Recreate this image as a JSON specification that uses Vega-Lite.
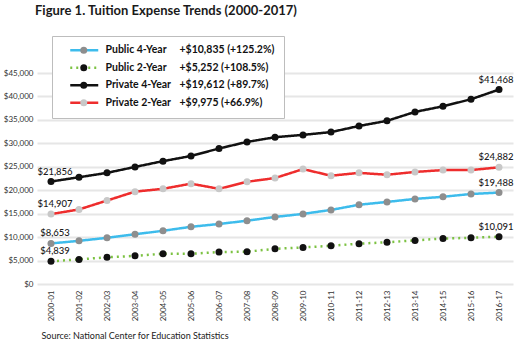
{
  "$schema": "https://vega.github.io/schema/vega-lite/v6.json",
  "width": 476,
  "height": 211,
  "autosize": {"type": "none"},
  "padding": {"left": 37, "top": 73, "right": 4, "bottom": 67},
  "background": "white",
  "config": {
    "font": "Lato",
    "view": {"stroke": null},
    "axis": {"labelColor": "#333333", "labelFont": "Lato"}
  },
  "title": {
    "text": "Figure 1. Tuition Expense Trends (2000-2017)",
    "anchor": "start",
    "frame": "group",
    "font": "Lato",
    "fontSize": 13,
    "fontWeight": "bold",
    "color": "#1a1a1a",
    "dx": -2,
    "offset": 18
  },
  "data": {
    "values": [
      {"year": "2000-01", "series": "Public 4-Year", "cost": 8653},
      {"year": "2001-02", "series": "Public 4-Year", "cost": 9200},
      {"year": "2002-03", "series": "Public 4-Year", "cost": 9850},
      {"year": "2003-04", "series": "Public 4-Year", "cost": 10600},
      {"year": "2004-05", "series": "Public 4-Year", "cost": 11350},
      {"year": "2005-06", "series": "Public 4-Year", "cost": 12200},
      {"year": "2006-07", "series": "Public 4-Year", "cost": 12800},
      {"year": "2007-08", "series": "Public 4-Year", "cost": 13500},
      {"year": "2008-09", "series": "Public 4-Year", "cost": 14300},
      {"year": "2009-10", "series": "Public 4-Year", "cost": 14950},
      {"year": "2010-11", "series": "Public 4-Year", "cost": 15800},
      {"year": "2011-12", "series": "Public 4-Year", "cost": 16900},
      {"year": "2012-13", "series": "Public 4-Year", "cost": 17500},
      {"year": "2013-14", "series": "Public 4-Year", "cost": 18150},
      {"year": "2014-15", "series": "Public 4-Year", "cost": 18600},
      {"year": "2015-16", "series": "Public 4-Year", "cost": 19200},
      {"year": "2016-17", "series": "Public 4-Year", "cost": 19488},
      {"year": "2000-01", "series": "Public 2-Year", "cost": 4839},
      {"year": "2001-02", "series": "Public 2-Year", "cost": 5250},
      {"year": "2002-03", "series": "Public 2-Year", "cost": 5700},
      {"year": "2003-04", "series": "Public 2-Year", "cost": 6000},
      {"year": "2004-05", "series": "Public 2-Year", "cost": 6450},
      {"year": "2005-06", "series": "Public 2-Year", "cost": 6450},
      {"year": "2006-07", "series": "Public 2-Year", "cost": 6800},
      {"year": "2007-08", "series": "Public 2-Year", "cost": 6900},
      {"year": "2008-09", "series": "Public 2-Year", "cost": 7500},
      {"year": "2009-10", "series": "Public 2-Year", "cost": 7800},
      {"year": "2010-11", "series": "Public 2-Year", "cost": 8150},
      {"year": "2011-12", "series": "Public 2-Year", "cost": 8600},
      {"year": "2012-13", "series": "Public 2-Year", "cost": 8900},
      {"year": "2013-14", "series": "Public 2-Year", "cost": 9300},
      {"year": "2014-15", "series": "Public 2-Year", "cost": 9700},
      {"year": "2015-16", "series": "Public 2-Year", "cost": 9850},
      {"year": "2016-17", "series": "Public 2-Year", "cost": 10091},
      {"year": "2000-01", "series": "Private 4-Year", "cost": 21856},
      {"year": "2001-02", "series": "Private 4-Year", "cost": 22770},
      {"year": "2002-03", "series": "Private 4-Year", "cost": 23700},
      {"year": "2003-04", "series": "Private 4-Year", "cost": 24970},
      {"year": "2004-05", "series": "Private 4-Year", "cost": 26200},
      {"year": "2005-06", "series": "Private 4-Year", "cost": 27300},
      {"year": "2006-07", "series": "Private 4-Year", "cost": 28900},
      {"year": "2007-08", "series": "Private 4-Year", "cost": 30300},
      {"year": "2008-09", "series": "Private 4-Year", "cost": 31300},
      {"year": "2009-10", "series": "Private 4-Year", "cost": 31800},
      {"year": "2010-11", "series": "Private 4-Year", "cost": 32400},
      {"year": "2011-12", "series": "Private 4-Year", "cost": 33700},
      {"year": "2012-13", "series": "Private 4-Year", "cost": 34800},
      {"year": "2013-14", "series": "Private 4-Year", "cost": 36700},
      {"year": "2014-15", "series": "Private 4-Year", "cost": 37900},
      {"year": "2015-16", "series": "Private 4-Year", "cost": 39400},
      {"year": "2016-17", "series": "Private 4-Year", "cost": 41468},
      {"year": "2000-01", "series": "Private 2-Year", "cost": 14907},
      {"year": "2001-02", "series": "Private 2-Year", "cost": 15900},
      {"year": "2002-03", "series": "Private 2-Year", "cost": 17800},
      {"year": "2003-04", "series": "Private 2-Year", "cost": 19700},
      {"year": "2004-05", "series": "Private 2-Year", "cost": 20300},
      {"year": "2005-06", "series": "Private 2-Year", "cost": 21400},
      {"year": "2006-07", "series": "Private 2-Year", "cost": 20300},
      {"year": "2007-08", "series": "Private 2-Year", "cost": 21800},
      {"year": "2008-09", "series": "Private 2-Year", "cost": 22600},
      {"year": "2009-10", "series": "Private 2-Year", "cost": 24500},
      {"year": "2010-11", "series": "Private 2-Year", "cost": 23100},
      {"year": "2011-12", "series": "Private 2-Year", "cost": 23700},
      {"year": "2012-13", "series": "Private 2-Year", "cost": 23300},
      {"year": "2013-14", "series": "Private 2-Year", "cost": 23900},
      {"year": "2014-15", "series": "Private 2-Year", "cost": 24300},
      {"year": "2015-16", "series": "Private 2-Year", "cost": 24300},
      {"year": "2016-17", "series": "Private 2-Year", "cost": 24882}
    ]
  },
  "encoding": {
    "x": {
      "field": "year",
      "type": "ordinal",
      "scale": {"type": "point", "padding": 0.5},
      "axis": {
        "title": "Source: National Center for Education Statistics",
        "titleFont": "Lato",
        "titleFontSize": 9,
        "titleFontWeight": "normal",
        "titleColor": "#222222",
        "titleAnchor": "start",
        "titleAlign": "left",
        "titleBaseline": "middle",
        "titleX": 4,
        "titleY": 51,
        "labelAngle": -90,
        "labelFontSize": 8,
        "labelPadding": 6,
        "labelAlign": "right",
        "labelBaseline": "middle",
        "domain": false,
        "ticks": false,
        "grid": false
      }
    },
    "y": {
      "field": "cost",
      "type": "quantitative",
      "scale": {"domain": [0, 45000], "nice": false},
      "axis": {
        "title": null,
        "values": [0, 5000, 10000, 15000, 20000, 25000, 30000, 35000, 40000, 45000],
        "format": "$,d",
        "labelFontSize": 8,
        "labelPadding": 4,
        "domain": false,
        "ticks": false,
        "grid": true,
        "gridColor": "#e6e6e6",
        "gridWidth": 2
      }
    }
  },
  "layer": [
    {
      "mark": {"type": "line", "strokeWidth": 2.5},
      "encoding": {
        "stroke": {
          "field": "series",
          "type": "nominal",
          "scale": {
            "domain": ["Public 4-Year", "Public 2-Year", "Private 4-Year", "Private 2-Year"],
            "range": ["#3dbcec", "#7cc242", "#111111", "#ee2d2d"]
          },
          "legend": {
            "title": null,
            "orient": "none",
            "legendX": 15,
            "legendY": -37,
            "padding": 9,
            "fillColor": "white",
            "strokeColor": "#bdbdbd",
            "symbolType": "M-4.667,0H4.667",
            "symbolSize": 36,
            "symbolStrokeWidth": 2.5,
            "symbolOffset": 18,
            "labelOffset": 90,
            "labelFont": "Lato",
            "labelFontSize": 10.5,
            "labelFontWeight": "bold",
            "labelColor": "#111111",
            "rowPadding": 6.5,
            "zindex": 0,
            "labelExpr": "datum.label === 'Public 4-Year' ? '+$10,835 (+125.2%)' : datum.label === 'Public 2-Year' ? '+$5,252 (+108.5%)' : datum.label === 'Private 4-Year' ? '+$19,612 (+89.7%)' : '+$9,975 (+66.9%)'"
          }
        },
        "strokeDash": {
          "field": "series",
          "type": "nominal",
          "scale": {
            "domain": ["Public 4-Year", "Public 2-Year", "Private 4-Year", "Private 2-Year"],
            "range": [[1, 0], [2, 4], [1, 0], [1, 0]]
          },
          "legend": null
        }
      }
    },
    {
      "mark": {"type": "circle", "opacity": 1, "size": 49},
      "encoding": {
        "fill": {
          "field": "series",
          "type": "nominal",
          "scale": {
            "domain": ["Private 2-Year", "Private 4-Year", "Public 2-Year", "Public 4-Year"],
            "range": ["#c8c8c8", "#111111", "#111111", "#8e8e8e"]
          },
          "legend": {
            "title": null,
            "values": ["Public 4-Year", "Public 2-Year", "Private 4-Year", "Private 2-Year"],
            "orient": "none",
            "legendX": 41.5,
            "legendY": -28,
            "padding": 0,
            "symbolType": "circle",
            "symbolSize": 49,
            "symbolStrokeWidth": 0,
            "symbolOpacity": 1,
            "labelOffset": 16.5,
            "labelFont": "Lato",
            "labelFontSize": 10.5,
            "labelFontWeight": "bold",
            "labelColor": "#111111",
            "rowPadding": 6.5,
            "zindex": 1
          }
        }
      }
    },
    {
      "transform": [{"filter": {"field": "year", "equal": "2000-01"}}],
      "mark": {"type": "text", "dx": 4, "dy": -10, "baseline": "middle", "align": "center", "fontSize": 9.5, "fontWeight": 500, "color": "#1a1a1a", "font": "Lato"},
      "encoding": {"text": {"field": "cost", "type": "quantitative", "format": "$,d"}}
    },
    {
      "transform": [{"filter": {"field": "year", "equal": "2016-17"}}],
      "mark": {"type": "text", "dx": -3, "dy": -10, "baseline": "middle", "align": "center", "fontSize": 9.5, "fontWeight": 500, "color": "#1a1a1a", "font": "Lato"},
      "encoding": {"text": {"field": "cost", "type": "quantitative", "format": "$,d"}}
    }
  ]
}
